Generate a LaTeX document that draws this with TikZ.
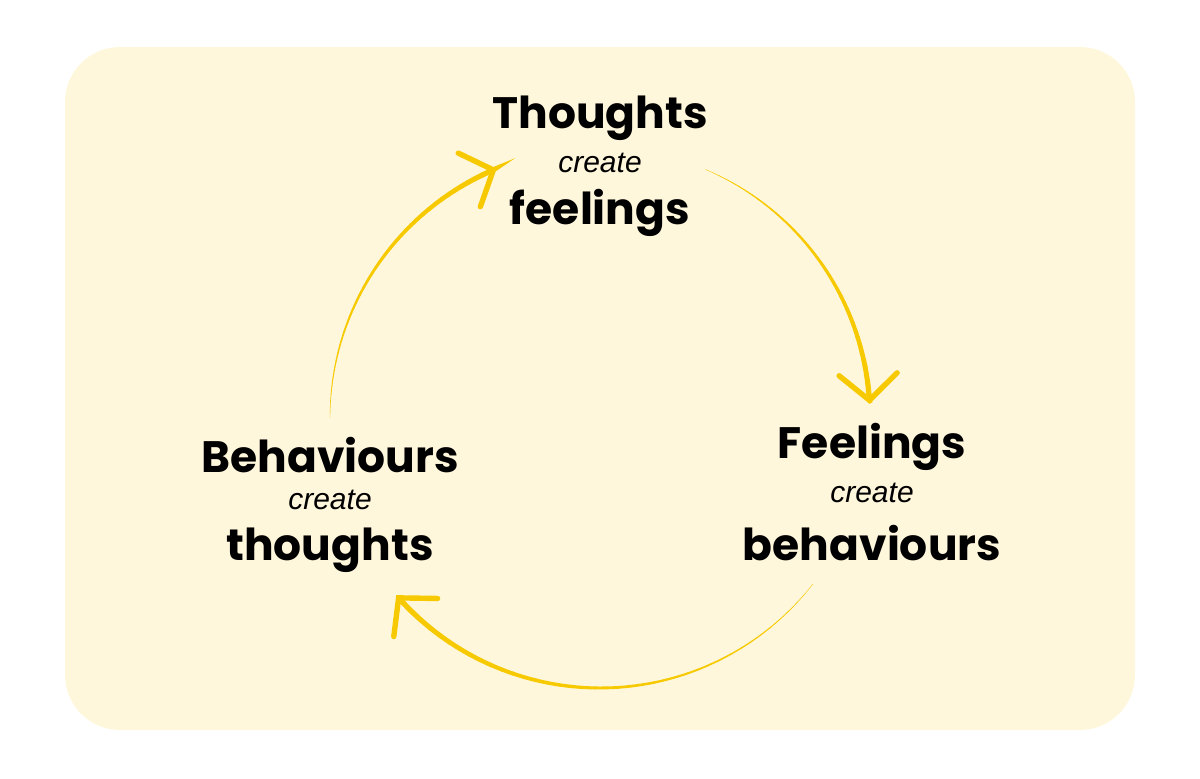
\documentclass[tikz,border=0pt]{standalone}
\usepackage{fontspec}
\setmainfont{Poppins}
\newfontfamily\crfont{Liberation Sans}
\usetikzlibrary{arrows.meta,calc}
\definecolor{bg}{HTML}{FFF7DC}
\definecolor{gold}{HTML}{F7C900}
\begin{document}
\begin{tikzpicture}[x=1pt,y=-1pt,
  big/.style={font=\fontsize{44}{48}\selectfont\bfseries, inner sep=0pt},
  small/.style={font=\crfont\itshape\fontsize{30}{32}\selectfont, inner sep=0pt}]
\useasboundingbox (0,0) rectangle (1200,779);
\fill[bg, rounded corners=55pt] (65,47) rectangle (1135,730);
\coordinate (c) at (600,418);
\def\R{270}
\foreach \a/\b/\nm in {-67/-3/t, 38/139/b, 180/247.5/l}{
  \pgfmathsetmacro{\da}{(\b-\a)/40}
  \foreach \i in {0,...,38}{
    \pgfmathsetmacro{\s}{\a+\i*\da}
    \pgfmathsetmacro{\w}{0.4+5.0*\i/39}
    \draw[gold, line width=\w pt, line cap=round] ($(c)+(\s:\R)$) arc[start angle=\s, delta angle=\da, radius=\R];
  }
  \pgfmathsetmacro{\s}{\a+39*\da}
  \draw[gold, line width=5.4pt, -{Straight Barb[length=26pt,width=58pt,line cap=round]}] ($(c)+(\s:\R)$) arc[start angle=\s, delta angle=\da, radius=\R];
}
\node[big] (t1) at (600,118) {Thoughts};
\node[small] (t2) at (600,163) {create};
\node[big] (t3) at (600,213) {feelings};
\node[big] (f1) at (872,447) {Feelings};
\node[small] (f2) at (872,493) {create};
\node[big] (f3) at (872,543) {behaviours};
\node[big] (b1) at (330,455) {Behaviours};
\node[small] (b2) at (330,500) {create};
\node[big] (b3) at (330,550) {thoughts};
\end{tikzpicture}
\end{document}
